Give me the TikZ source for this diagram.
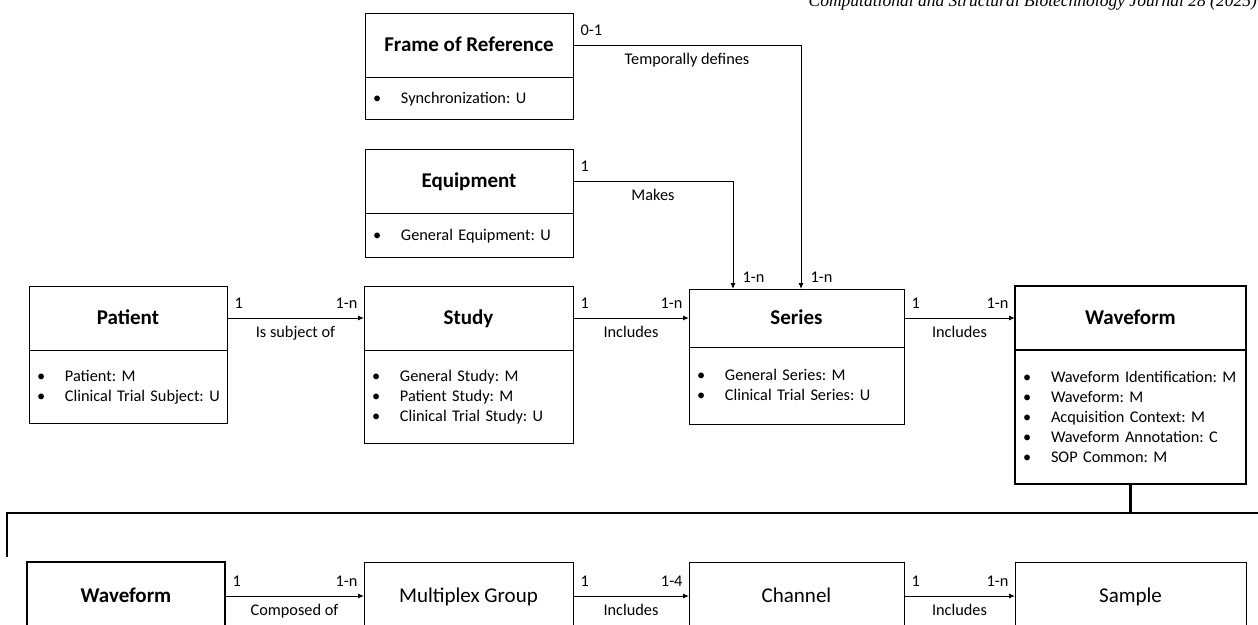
\documentclass[tikz,border=0pt]{standalone}
\usepackage{fontspec}
\setmainfont{Carlito}
\newfontfamily\journalfont{Liberation Serif}
\usetikzlibrary{positioning,arrows.meta}
\frenchspacing

\newcommand{\entfont}{\fontsize{21}{25}\selectfont}
\newcommand{\modfont}{\fontsize{16.3}{20}\selectfont}
\newcommand{\modline}[1]{\rule[-4.6pt]{0pt}{19.6pt}\makebox[28pt][l]{\textbullet}\mbox{#1}}

\tikzset{
	entity/.style={draw, line width=1pt, inner sep=0pt, outer sep=0pt, text height=18pt, text depth=4.6pt, font=\entfont\bfseries},
	plainentity/.style={entity, font=\entfont},
	keybox/.style={line width=2.7pt},
	modules/.style={draw, line width=1pt, inner xsep=8pt, inner ysep=0pt, outer sep=0pt, align=left, font=\modfont},
	link/.style={line width=1pt, -{Latex[length=6pt,width=5pt]}},
	lab/.style={font=\modfont, inner sep=0pt},
	src/.style={lab, pos=0, anchor=base west, xshift=7pt, yshift=10pt},
	dst/.style={lab, pos=1, anchor=base east, xshift=-6pt, yshift=10pt},
	vdst/.style={lab, pos=1, anchor=base west, xshift=9pt, yshift=7pt},
	verb/.style={lab, anchor=base, yshift=-19pt}
}

\begin{document}
\begin{tikzpicture}[x=1pt, y=-1pt]
	\useasboundingbox (0,0) rectangle (1258,624);

	\node[anchor=base east, inner sep=0pt, font=\journalfont\itshape\fontsize{17.5}{20}\selectfont] (journal) at (1257,6) {Computational and Structural Biotechnology Journal 28 (2025)};

	\node[entity, minimum width=208pt, minimum height=64pt] (frame) at (469,45) {Frame of Reference};
	\node[modules, text width=192pt, minimum height=42pt, below=0pt of frame] (framemods) {\modline{Synchronization: U}};

	\node[entity, minimum width=208pt, minimum height=64pt] (equipment) at (469,181) {Equipment};
	\node[modules, text width=192pt, minimum height=44pt, below=0pt of equipment] (equipmentmods) {\modline{General Equipment: U}};

	\node[entity, minimum width=198pt, minimum height=64pt] (patient) at (128,318) {Patient};
	\node[modules, text width=182pt, minimum height=73pt, below=0pt of patient] (patientmods) {\modline{Patient: M}\\ \modline{Clinical Trial Subject: U}};

	\node[entity, minimum width=209pt, minimum height=64pt] (study) at (468.5,318) {Study};
	\node[modules, text width=193pt, minimum height=93pt, below=0pt of study] (studymods) {\modline{General Study: M}\\ \modline{Patient Study: M}\\ \modline{Clinical Trial Study: U}};

	\node[entity, minimum width=215pt, minimum height=58pt] (series) at (796.5,318) {Series};
	\node[modules, text width=199pt, minimum height=77pt, below=0pt of series] (seriesmods) {\modline{General Series: M}\\ \modline{Clinical Trial Series: U}};

	\node[entity, keybox, minimum width=231pt, minimum height=64pt] (waveform) at (1130.5,318) {Waveform};
	\node[modules, keybox, text width=215pt, minimum height=134pt, below=0pt of waveform] (waveformmods) {\modline{Waveform Identification: M}\\ \modline{Waveform: M}\\ \modline{Acquisition Context: M}\\ \modline{Waveform Annotation: C}\\ \modline{SOP Common: M}};

	\node[entity, keybox, minimum width=198pt, minimum height=68pt] (wave) at (126,596) {Waveform};
	\node[plainentity, minimum width=209pt, minimum height=68pt] (multiplex) at (468.5,596) {Multiplex Group};
	\node[plainentity, minimum width=215pt, minimum height=68pt] (channel) at (796.5,596) {Channel};
	\node[plainentity, minimum width=231pt, minimum height=68pt] (sample) at (1130.5,596) {Sample};

	\draw[link] (frame.east) -| ([xshift=4.5pt]series.north) node[src]{0-1} node[verb, pos=0.25]{Temporally defines} node[vdst]{1-n};
	\draw[link] (equipment.east) -| ([xshift=-63.5pt]series.north) node[src]{1} node[verb, pos=0.25]{Makes} node[vdst]{1-n};
	\draw[link] (patient) -- (study) node[src]{1} node[dst]{1-n} node[verb, midway]{Is subject of};
	\draw[link] (study) -- (series) node[src]{1} node[dst]{1-n} node[verb, midway]{Includes};
	\draw[link] (series) -- (waveform) node[src]{1} node[dst]{1-n} node[verb, midway]{Includes};

	\coordinate (busend) at (7,557);
	\coordinate (buscorner) at (7,513);
	\coordinate (busright) at (1270,513);
	\draw[keybox] (busend) -- (buscorner) -- (busright);
	\draw[keybox] (waveformmods.south) -- (waveformmods.south |- buscorner);

	\draw[link] (wave) -- (multiplex) node[src]{1} node[dst]{1-n} node[verb, midway]{Composed of};
	\draw[link] (multiplex) -- (channel) node[src]{1} node[dst]{1-4} node[verb, midway]{Includes};
	\draw[link] (channel) -- (sample) node[src]{1} node[dst]{1-n} node[verb, midway]{Includes};
\end{tikzpicture}
\end{document}
